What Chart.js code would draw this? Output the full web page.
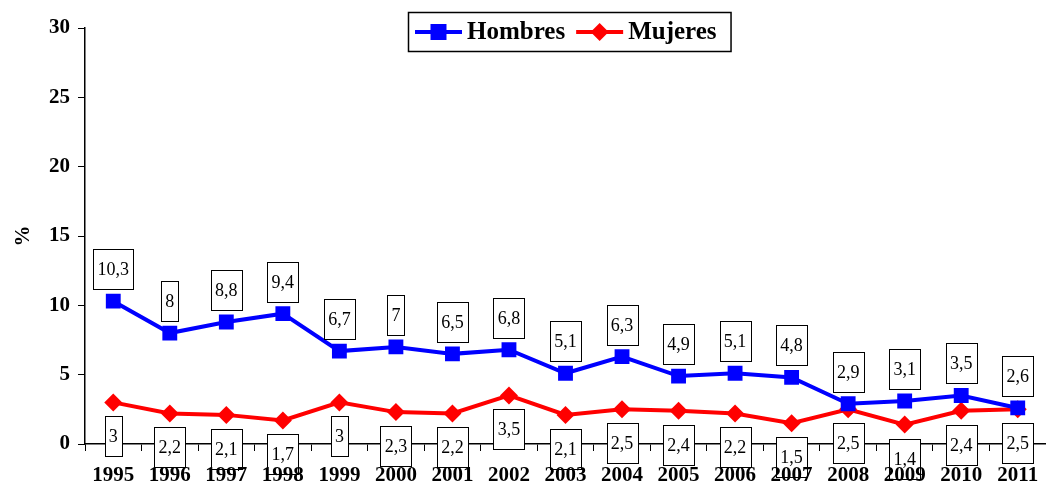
<!DOCTYPE html>
<html>
<head>
<meta charset="utf-8">
<script src="https://cdn.jsdelivr.net/npm/chart.js@4.4.1/dist/chart.umd.min.js"></script>
<style>
  html, body { margin: 0; padding: 0; background: #fff; }
  #wrap { width: 1046px; height: 486px; }
</style>
</head>
<body>
<div id="wrap"><canvas id="chart"></canvas></div>
<script>
const YEARS = ['1995', '1996', '1997', '1998', '1999', '2000', '2001', '2002', '2003', '2004', '2005', '2006', '2007', '2008', '2009', '2010', '2011'];
const HOMBRES = [10.3, 8, 8.8, 9.4, 6.7, 7, 6.5, 6.8, 5.1, 6.3, 4.9, 5.1, 4.8, 2.9, 3.1, 3.5, 2.6];
const MUJERES = [3, 2.2, 2.1, 1.7, 3, 2.3, 2.2, 3.5, 2.1, 2.5, 2.4, 2.2, 1.5, 2.5, 1.4, 2.4, 2.5];
const Y_TICKS = [0, 5, 10, 15, 20, 25, 30];

const SERIF = '"Liberation Serif", "Times New Roman", serif';
const fmt = v => String(v).replace('.', ',');

// boxed value labels, above Hombres and below Mujeres
const valueBoxes = {
  id: 'valueBoxes',
  afterDatasetsDraw(chart) {
    const ctx = chart.ctx;
    ctx.save();
    ctx.font = `18px ${SERIF}`;
    ctx.textAlign = 'center';
    ctx.textBaseline = 'middle';
    chart.data.datasets.forEach((ds, di) => {
      const meta = chart.getDatasetMeta(di);
      meta.data.forEach((pt, i) => {
        const txt = fmt(ds.data[i]);
        const w = Math.round(ctx.measureText(txt).width + 8);
        const h = 40;
        const x0 = Math.round(pt.x - w / 2) + 0.5;
        const y0 = Math.round(pt.y + ds.boxShift - h / 2) + 0.5;
        ctx.fillStyle = '#fff';
        ctx.fillRect(x0, y0, w, h);
        ctx.strokeStyle = '#000';
        ctx.lineWidth = 1;
        ctx.strokeRect(x0, y0, w, h);
        ctx.fillStyle = '#000';
        ctx.fillText(txt, pt.x, y0 + h / 2 + 1);
      });
    });
    ctx.restore();
  }
};

// framed legend with line + marker swatches
const boxLegend = {
  id: 'boxLegend',
  afterDraw(chart) {
    const ctx = chart.ctx;
    const top = 12, bottom = 51, cy = 32;
    ctx.save();
    ctx.font = `bold 25px ${SERIF}`;
    ctx.textBaseline = 'middle';
    ctx.textAlign = 'left';
    let x = 415;
    const items = chart.data.datasets.map(ds => ({ ds, w: ctx.measureText(ds.label).width }));
    const total = items.reduce((s, it) => s + 47 + 5 + it.w, 0) + 11 * (items.length - 1);
    ctx.fillStyle = '#fff';
    ctx.fillRect(408.5, top + 0.5, total + 14 + 7, bottom - top);
    ctx.strokeStyle = '#000';
    ctx.lineWidth = 1.5;
    ctx.strokeRect(408.5, top + 0.5, total + 14 + 7, bottom - top);
    items.forEach(({ ds, w }) => {
      ctx.strokeStyle = ds.borderColor;
      ctx.lineWidth = 4;
      ctx.beginPath();
      ctx.moveTo(x, cy);
      ctx.lineTo(x + 47, cy);
      ctx.stroke();
      const mx = x + 23.5;
      ctx.fillStyle = ds.backgroundColor;
      ctx.beginPath();
      if (ds.pointStyle === 'rect') {
        ctx.rect(mx - 8, cy - 8, 16, 16);
      } else {
        ctx.moveTo(mx - 9, cy); ctx.lineTo(mx, cy - 9); ctx.lineTo(mx + 9, cy); ctx.lineTo(mx, cy + 9);
        ctx.closePath();
      }
      ctx.fill();
      x += 52;
      ctx.fillStyle = '#000';
      ctx.fillText(ds.label, x, cy + 1);
      x += w + 11;
    });
    ctx.restore();
  }
};

new Chart(document.getElementById('chart'), {
  type: 'line',
  data: {
    labels: YEARS,
    datasets: [
      {
        label: 'Hombres', data: HOMBRES, boxShift: -32,
        borderColor: '#0000FF', backgroundColor: '#0000FF', borderWidth: 4, tension: 0,
        pointStyle: 'rect', pointRadius: 10.5, pointHoverRadius: 10.5, pointBorderWidth: 0
      },
      {
        label: 'Mujeres', data: MUJERES, boxShift: 34,
        borderColor: '#FF0000', backgroundColor: '#FF0000', borderWidth: 4, tension: 0,
        pointStyle: 'rectRot', pointRadius: 9, pointHoverRadius: 9, pointBorderWidth: 0
      }
    ]
  },
  options: {
    responsive: true, maintainAspectRatio: false, animation: false,
    layout: { autoPadding: false, padding: { top: 28, right: -7.5, left: 0, bottom: 0 } },
    plugins: { legend: { display: false }, tooltip: { enabled: false } },
    scales: {
      x: {
        offset: true,
        // the original plot runs a little past the right edge of the picture
        afterFit: s => { s.height = 42; s.paddingLeft = 0; s.paddingRight = -7.5; },
        grid: { offset: true, drawOnChartArea: false, drawTicks: true, tickLength: 7, color: '#000', lineWidth: 1 },
        border: { display: true, color: '#000', width: 1.5 },
        ticks: { z: 1, color: '#000', padding: 12, maxRotation: 0, autoSkip: false, font: { family: SERIF, size: 21, weight: 'bold' } }
      },
      y: {
        min: 0, max: 30,
        afterFit: s => { s.width = 85; s.paddingTop = 0; s.paddingBottom = 0; },
        afterBuildTicks: s => { s.ticks = Y_TICKS.map(v => ({ value: v })); },
        grid: { drawOnChartArea: false, drawTicks: true, tickLength: 7, color: '#000', lineWidth: 1 },
        border: { display: true, color: '#000', width: 1.5 },
        ticks: { color: '#000', padding: 8, font: { family: SERIF, size: 21, weight: 'bold' } },
        title: { display: true, text: '%', color: '#000', padding: { top: 11, bottom: 0 }, font: { family: SERIF, size: 21, weight: 'bold' } }
      }
    }
  },
  plugins: [valueBoxes, boxLegend]
});
</script>
</body>
</html>
